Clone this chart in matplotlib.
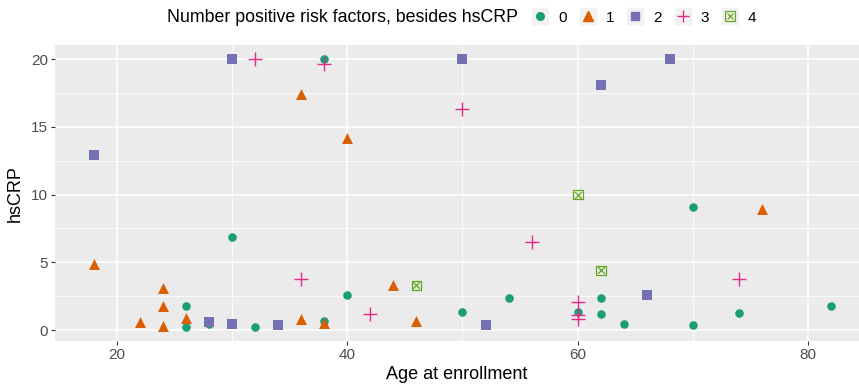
import numpy as np
from matplotlib import pyplot as plt
from matplotlib.lines import Line2D
from matplotlib.legend_handler import HandlerTuple

# Data: age at enrollment and hsCRP, by number of risk factors
age_0 = [38, 30, 26, 26, 28, 32, 38, 40, 50, 54, 60, 62, 62, 64, 70, 70, 74, 82]
crp_0 = [20, 6.9, 1.8, 0.2, 0.45, 0.2, 0.65, 2.6, 1.35, 2.35, 1.35, 2.35, 1.2, 0.45, 9.1, 0.35, 1.25, 1.8]

age_1 = [18, 22, 24, 24, 24, 26, 36, 36, 38, 40, 44, 46, 76]
crp_1 = [4.9, 0.6, 3.1, 1.75, 0.3, 0.9, 17.4, 0.8, 0.55, 14.2, 3.3, 0.7, 8.9]

age_2 = [18, 28, 30, 30, 34, 50, 52, 62, 66, 68]
crp_2 = [12.9, 0.6, 20, 0.45, 0.4, 20, 0.4, 18.1, 2.6, 20]

age_3 = [32, 38, 36, 42, 50, 56, 60, 60, 60, 74]
crp_3 = [20, 19.6, 3.8, 1.2, 16.3, 6.5, 2.1, 1.1, 0.85, 3.8]

age_4 = [46, 60, 62]
crp_4 = [3.3, 10, 4.4]

group_labels = ['0', '1', '2', '3', '4']
colors = ['#1B9E77', '#D95F02', '#7570B3', '#E7298A', '#66A61E']

plt.rcParams['font.family'] = ['Liberation Sans', 'DejaVu Sans']

fig = plt.figure(figsize=(8.59, 3.89), dpi=100)
ax = fig.add_axes([0.064, 0.123, 0.936, 0.761])
ax.set_facecolor('#EBEBEB')
for s in ax.spines.values():
    s.set_visible(False)

# grid like ggplot theme_gray
ax.set_xticks([20, 40, 60, 80])
ax.set_yticks([0, 5, 10, 15, 20])
ax.set_xticks([10, 30, 50, 70], minor=True)
ax.set_yticks([2.5, 7.5, 12.5, 17.5], minor=True)
ax.grid(True, which='major', color='white', linewidth=1.1)
ax.grid(True, which='minor', color='white', linewidth=0.55)
ax.set_axisbelow(True)
ax.tick_params(which='major', length=3, width=0.8, color='#333333', labelcolor='#4D4D4D',
               labelsize=11, pad=2)
ax.tick_params(which='minor', length=0)

ax.scatter(age_0, crp_0, marker='o', s=38, color=colors[0], linewidths=0, zorder=3)
ax.scatter(age_1, crp_1, marker='^', s=62, color=colors[1], linewidths=0, zorder=3)
ax.scatter(age_2, crp_2, marker='s', s=44, color=colors[2], linewidths=0, zorder=3)
ax.scatter(age_3, crp_3, marker='+', s=110, color=colors[3], linewidths=1.0, zorder=3)
ax.scatter(age_4, crp_4, marker='s', s=48, facecolors='none', edgecolors=colors[4], linewidths=0.9, zorder=3)
ax.scatter(age_4, crp_4, marker='x', s=24, color=colors[4], linewidths=0.9, zorder=3)

ax.set_xlim(14.65, 84.4)
ax.set_ylim(-0.82, 21.03)

ax.set_xlabel('Age at enrollment', fontsize=13, color='black', labelpad=3)
ax.set_ylabel('hsCRP', fontsize=13, color='black', labelpad=5)

# legend on top, keys with grey background squares
key_bg = dict(marker='s', markersize=12, color='#F2F2F2', linestyle='none')
handles = [
    (Line2D([], [], **key_bg), Line2D([], [], marker='o', markersize=5.5, color=colors[0], linestyle='none')),
    (Line2D([], [], **key_bg), Line2D([], [], marker='^', markersize=7, color=colors[1], linestyle='none')),
    (Line2D([], [], **key_bg), Line2D([], [], marker='s', markersize=5.5, color=colors[2], linestyle='none')),
    (Line2D([], [], **key_bg), Line2D([], [], marker='+', markersize=9, markeredgewidth=1.0,
                                      color=colors[3], linestyle='none')),
    (Line2D([], [], **key_bg), Line2D([], [], marker='s', markersize=6.5, markerfacecolor='none',
                                      markeredgecolor=colors[4], markeredgewidth=0.9, linestyle='none'),
     Line2D([], [], marker='x', markersize=4.5, markeredgewidth=0.9, color=colors[4], linestyle='none')),
]
fig.text(0.194, 0.955, 'Number positive risk factors, besides hsCRP', fontsize=12.8,
         ha='left', va='center')
fig.legend(handles, group_labels, loc='center left', bbox_to_anchor=(0.622, 0.955), ncol=5,
           frameon=False, fontsize=11, handler_map={tuple: HandlerTuple(ndivide=1, pad=0)},
           handlelength=0.8, handletextpad=0.75, columnspacing=1.0, borderpad=0, borderaxespad=0)

fig.savefig('out.png', dpi=100)
